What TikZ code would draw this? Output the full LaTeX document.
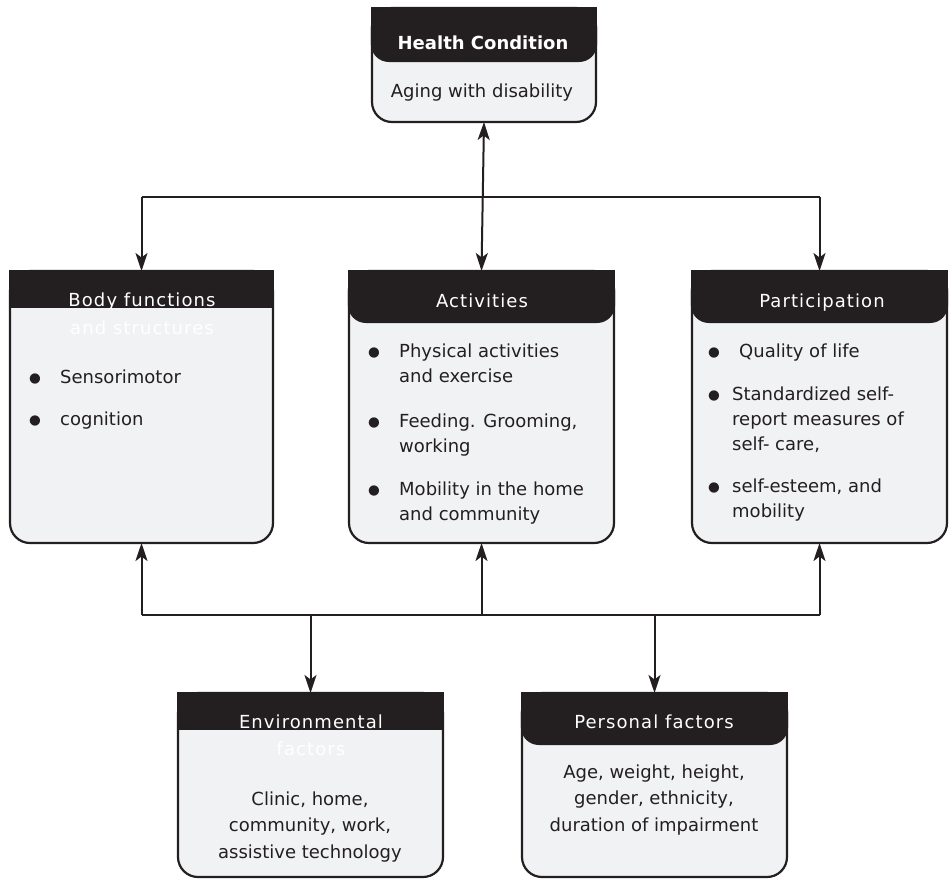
\documentclass[tikz,border=0pt]{standalone}
\usepackage{fontspec}
\setmainfont{DejaVu Sans}
\newfontfamily\hdfont[LetterSpace=6]{DejaVu Sans}
\usetikzlibrary{arrows.meta}
\definecolor{ink}{HTML}{231F20}
\definecolor{boxgray}{HTML}{F1F2F4}
\newcommand{\fs}{\fontsize{18}{25}\selectfont}
\newcommand{\bul}[1]{\makebox[#1][l]{\raisebox{0.3pt}{\fontsize{13.5}{13.5}\selectfont ●}}}
\tikzset{
  x=1pt, y=-1pt,
  boxnode/.style={inner sep=0pt, outer sep=0pt},
  frame/.style={draw=ink, line width=2.2pt, fill=boxgray, rounded corners=20pt},
  headfill/.style={fill=ink},
  txt/.style={inner sep=0pt, text=ink, font=\fs},
  hd/.style={inner sep=0pt, text=white, font=\fs\hdfont},
  conn/.style={draw=ink, line width=2pt},
  tip/.tip={Stealth[length=18pt,width=12pt,inset=4.5pt]},
  arr/.style={conn, -tip},
  darr/.style={conn, tip-tip},
}
% name, L, T, R, B, headerbottom
\newcommand{\tabbox}[6]{%
  \node[boxnode, minimum width={#4pt-#2pt}, minimum height={#5pt-#3pt}] (#1) at ({(#2+#4)/2},{(#3+#5)/2}) {};
  \path[frame] (#2,#3) rectangle (#4,#5);
  \fill[headfill, rounded corners=18pt] (#2-1.1,#3) rectangle (#4+1.1,#6);
  \fill[headfill] (#2-1.1,#3-1.1) rectangle (#4+1.1,#3+22);
}
\newcommand{\sqbox}[6]{%
  \node[boxnode, minimum width={#4pt-#2pt}, minimum height={#5pt-#3pt}] (#1) at ({(#2+#4)/2},{(#3+#5)/2}) {};
  \path[frame] (#2,#3) rectangle (#4,#5);
  \fill[headfill] (#2-1.1,#3-1.1) rectangle (#4+1.1,#6);
}
\begin{document}
\begin{tikzpicture}
\useasboundingbox (0,0) rectangle (950,879);
\fill[white] (0,0) rectangle (950,879);

% boxes
\tabbox{health}{372}{8}{596}{122}{62}
\sqbox{body}{10}{271}{273}{543}{308}
\tabbox{act}{349}{271}{614}{543}{323}
\tabbox{part}{692}{271}{947}{543}{323}
\sqbox{env}{178}{693}{443}{877}{730}
\tabbox{pers}{522}{693}{787}{877}{745}

% headers
\node[inner sep=0pt, text=white, font=\fs\bfseries, anchor=base] (healthT) at (483,49) {Health Condition};
\node[txt, anchor=base] (healthB) at (482,97) {Aging with disability};

\node[hd, anchor=base] (bodyT) at (142,306) {\parbox[t]{250pt}{\centering\fontsize{18}{28}\selectfont\hdfont Body functions\\and structures}};
\node[hd, anchor=base] (actT) at (482,307) {Activities};
\node[hd, anchor=base] (partT) at (822,307) {Participation};
\node[hd, anchor=base] (envT) at (311,728) {\parbox[t]{250pt}{\centering\fontsize{18}{27}\selectfont\hdfont Environmental\\factors}};
\node[hd, anchor=base] (persT) at (654,728) {Personal factors};

% body contents
\node[txt, anchor=base west] (bodyI1) at (29,383) {\parbox[t]{240pt}{\bul{31pt}Sensorimotor}};
\node[txt, anchor=base west] (bodyI2) at (29,425) {\parbox[t]{240pt}{\bul{31pt}cognition}};

\node[txt, anchor=base west] (actI1) at (368,357) {\parbox[t]{250pt}{\bul{31pt}Physical activities\\\hspace*{31pt}and exercise}};
\node[txt, anchor=base west] (actI2) at (368,427) {\parbox[t]{250pt}{\bul{31pt}Feeding. Grooming,\\\hspace*{31pt}working}};
\node[txt, anchor=base west] (actI3) at (368,495) {\parbox[t]{250pt}{\bul{31pt}Mobility in the home\\\hspace*{31pt}and community}};

\node[txt, anchor=base west] (partI1) at (708,357) {\parbox[t]{240pt}{\bul{31pt}Quality of life}};
\node[txt, anchor=base west] (partI2) at (708,400) {\parbox[t]{240pt}{\bul{24pt}Standardized self-\\\hspace*{24pt}report measures of\\\hspace*{24pt}self- care,}};
\node[txt, anchor=base west] (partI3) at (708,492) {\parbox[t]{240pt}{\bul{24pt}self-esteem, and\\\hspace*{24pt}mobility}};

\node[txt, anchor=base] (envB) at (310,805) {\parbox[t]{260pt}{\centering\fontsize{18}{26.5}\selectfont Clinic, home,\\community, work,\\assistive technology}};
\node[txt, anchor=base] (persB) at (654,778) {\parbox[t]{260pt}{\centering\fontsize{18}{26.5}\selectfont Age, weight, height,\\gender, ethnicity,\\duration of impairment}};

% connectors
\coordinate (topL) at (body.north |- 0,197);
\coordinate (topR) at (part.north |- 0,197);
\coordinate (botL) at (body.south |- 0,615);
\coordinate (botR) at (part.south |- 0,615);
\coordinate (botE) at (env.north |- 0,615);
\coordinate (botP) at (pers.north |- 0,615);
\coordinate (botM) at (act.south |- 0,615);

\draw[darr] (health.south) -- (act.north);
\draw[conn] (topL) -- (topR);
\draw[arr] (topL) -- (body.north);
\draw[arr] (topR) -- (part.north);

\draw[conn] (botL) -- (botR);
\draw[arr] (botL) -- (body.south);
\draw[arr] (botM) -- (act.south);
\draw[arr] (botR) -- (part.south);
\draw[arr] (botE) -- (env.north);
\draw[arr] (botP) -- (pers.north);
\end{tikzpicture}
\end{document}
